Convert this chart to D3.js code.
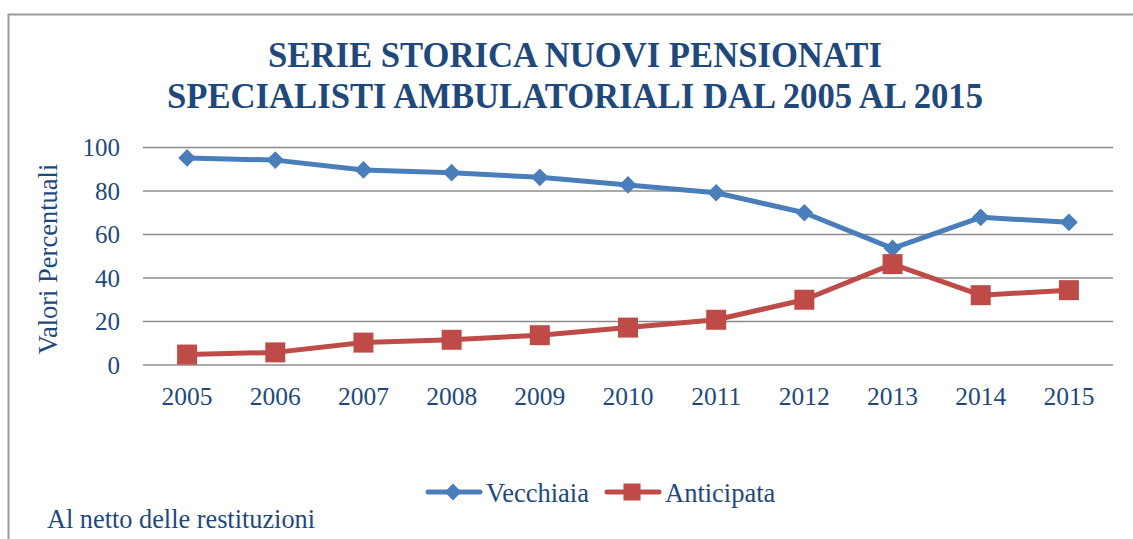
<!DOCTYPE html>
<html>
<head>
<meta charset="utf-8">
<script src="https://cdn.jsdelivr.net/npm/d3@7"></script>
</head>
<body style="margin:0">
<script>
// data
const years = ['2005', '2006', '2007', '2008', '2009', '2010', '2011', '2012', '2013', '2014', '2015'];
const vecchiaia = [95.2, 94.2, 89.7, 88.4, 86.3, 82.8, 79.2, 70.0, 53.6, 67.9, 65.6];
const anticipata = [4.8, 5.8, 10.3, 11.6, 13.7, 17.2, 20.8, 30.0, 46.4, 32.1, 34.4];
const yTicks = [0, 20, 40, 60, 80, 100];
const titleLines = ['SERIE STORICA NUOVI PENSIONATI', 'SPECIALISTI AMBULATORIALI DAL 2005 AL 2015'];

const serif = 'Liberation Serif';
const textColor = '#1F497D';
const blue = '#4A7EBB';
const red = '#BE4B48';

const svg = d3.select('body').append('svg')
  .attr('width', 1133)
  .attr('height', 539)
  .attr('font-family', serif);

// outer frame (runs off the right and bottom edges)
svg.append('rect')
  .attr('x', 8.5).attr('y', 14.5)
  .attr('width', 1200).attr('height', 600)
  .attr('fill', 'none')
  .attr('stroke', '#9a9a9a')
  .attr('stroke-width', 2);

// title, squeezed a bit like the original
const title = svg.append('g').selectAll('text')
  .data(titleLines)
  .enter().append('text')
  .attr('x', 575)
  .attr('y', (d, i) => 66.5 + i * 41)
  .attr('text-anchor', 'middle')
  .attr('font-family', serif)
  .attr('font-weight', 'bold')
  .attr('font-size', 35)
  .attr('fill', textColor)
  .text(d => d);
const natural = title.nodes().map(n => n.getComputedTextLength());
const squeeze = 816 / natural[1];
title.attr('textLength', (d, i) => natural[i] * squeeze)
  .attr('lengthAdjust', 'spacingAndGlyphs');

// scales
const x = d3.scaleBand().domain(years).range([143, 1113]);
const y = d3.scaleLinear().domain([0, 100]).range([365, 147.5]);

// gridlines
svg.append('g')
  .selectAll('line')
  .data(yTicks)
  .enter().append('line')
  .attr('x1', 143).attr('x2', 1113)
  .attr('y1', d => y(d)).attr('y2', d => y(d))
  .attr('stroke', '#8c8c8c')
  .attr('stroke-width', 1.6);

// y axis labels
const yAxis = svg.append('g')
  .attr('transform', 'translate(143,0)')
  .call(d3.axisLeft(y).tickValues(yTicks).tickSize(0).tickPadding(23))
  .attr('font-family', serif)
  .attr('font-size', 25);
yAxis.select('.domain').remove();
yAxis.selectAll('text').attr('fill', textColor);

// x axis labels
const xAxis = svg.append('g')
  .attr('transform', 'translate(0,365)')
  .call(d3.axisBottom(x).tickSize(0).tickPadding(22))
  .attr('font-family', serif)
  .attr('font-size', 25.5);
xAxis.select('.domain').remove();
xAxis.selectAll('text').attr('fill', textColor);

// y axis title
svg.append('text')
  .attr('transform', 'translate(57,259) rotate(-90)')
  .attr('text-anchor', 'middle')
  .attr('font-family', serif)
  .attr('font-size', 26.5)
  .attr('fill', textColor)
  .text('Valori Percentuali');

const cx = d => x(d) + x.bandwidth() / 2;
const line = d3.line()
  .x((d, i) => cx(years[i]))
  .y(d => y(d));

// series lines
svg.append('path')
  .datum(vecchiaia)
  .attr('d', line)
  .attr('fill', 'none')
  .attr('stroke', blue)
  .attr('stroke-width', 5)
  .attr('stroke-linejoin', 'round');

svg.append('path')
  .datum(anticipata)
  .attr('d', line)
  .attr('fill', 'none')
  .attr('stroke', red)
  .attr('stroke-width', 5)
  .attr('stroke-linejoin', 'round');

// markers
const diamond = d3.symbol().type(d3.symbolDiamond2).size(200);
const square = d3.symbol().type(d3.symbolSquare).size(400);

svg.append('g')
  .selectAll('path')
  .data(vecchiaia)
  .enter().append('path')
  .attr('d', diamond)
  .attr('transform', (d, i) => `translate(${cx(years[i])},${y(d)})`)
  .attr('fill', blue);

svg.append('g')
  .selectAll('path')
  .data(anticipata)
  .enter().append('path')
  .attr('d', square)
  .attr('transform', (d, i) => `translate(${cx(years[i])},${y(d)})`)
  .attr('fill', red);

// legend
const legendDiamond = d3.symbol().type(d3.symbolDiamond2).size(180);
const legendSquare = d3.symbol().type(d3.symbolSquare).size(290);
const legend = [
  { name: 'Vecchiaia', color: blue, sym: legendDiamond, x: 426 },
  { name: 'Anticipata', color: red, sym: legendSquare, x: 605 }
];
const lg = svg.append('g').selectAll('g')
  .data(legend)
  .enter().append('g')
  .attr('transform', d => `translate(${d.x},492)`);
lg.append('line')
  .attr('x1', 2).attr('x2', 54)
  .attr('stroke', d => d.color)
  .attr('stroke-width', 5)
  .attr('stroke-linecap', 'round');
lg.append('path')
  .attr('d', d => d.sym())
  .attr('transform', 'translate(27,0)')
  .attr('fill', d => d.color);
lg.append('text')
  .attr('x', 60)
  .attr('y', 9.5)
  .attr('font-family', serif)
  .attr('font-size', 26.5)
  .attr('fill', textColor)
  .text(d => d.name);

// footnote
svg.append('text')
  .attr('x', 47)
  .attr('y', 528)
  .attr('font-family', serif)
  .attr('font-size', 26.3)
  .attr('fill', textColor)
  .text('Al netto delle restituzioni');
</script>
</body>
</html>
